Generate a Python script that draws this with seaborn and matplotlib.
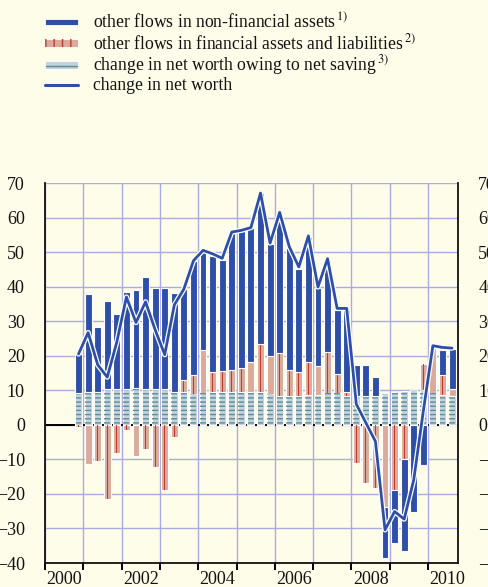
import numpy as np
import pandas as pd
import matplotlib
matplotlib.use("Agg")
import matplotlib.pyplot as plt
import matplotlib.patheffects as pe
from matplotlib.patches import Rectangle
from matplotlib.lines import Line2D
import seaborn as sns

# Quarterly data, 2000 Q4 - 2010 Q3 (EUR billions, four-quarter sums)
quarters = pd.period_range("2000Q4", "2010Q3", freq="Q")
net_saving = [9.2, 9.6, 9.6, 10.4, 10.4, 10.4, 10.6, 10.4, 10.4, 10.4,
              9.6, 9.6, 9.0, 9.2, 9.6, 9.6, 9.6, 9.6, 9.4, 9.4,
              9.0, 8.2, 8.2, 8.2, 8.6, 8.6, 9.2, 9.2, 8.2, 8.2,
              8.2, 8.4, 9.0, 9.6, 9.9, 10.1, 10.1, 9.2, 8.6, 8.2]
fin_flows = [-0.5, -11.3, -10.6, -21.5, -8.2, -1.5, -8.9, -7.0, -12.1, -18.8,
             -3.4, 3.4, 5.3, 12.5, 5.6, 6.0, 6.3, 6.8, 8.9, 14.0,
             10.8, 12.7, 7.7, 7.1, 9.6, 8.3, 12.0, 5.6, 1.4, -11.1,
             -16.7, -18.3, -23.9, -19.0, -9.9, 0.0, 7.5, 13.0, 5.7, 2.1]
nonfin_flows = [11.4, 28.3, 18.6, 25.3, 21.7, 28.1, 28.5, 32.4, 29.2, 29.1,
                28.5, 26.3, 33.2, 28.2, 33.7, 32.2, 39.6, 39.6, 38.6, 43.7,
                32.6, 40.4, 35.3, 29.8, 36.3, 22.6, 26.6, 18.5, 23.7, 9.2,
                9.2, 5.4, -14.7, -15.3, -26.5, -25.1, -11.6, 0.6, 7.4, 11.6]
net_worth = [20.5, 26.7, 17.4, 13.8, 24.0, 37.0, 29.6, 35.6, 27.5, 20.3,
             34.7, 39.3, 47.5, 50.5, 49.5, 48.2, 55.8, 56.3, 57.1, 67.1,
             52.6, 61.5, 51.6, 45.7, 54.7, 39.9, 48.1, 33.7, 33.7, 6.0,
             0.6, -4.8, -30.4, -25.1, -27.3, -15.9, 4.0, 22.9, 22.4, 22.2]
year_ticks = list(range(2000, 2011))
year_labels = ["2000", "2002", "2004", "2006", "2008", "2010"]
legend_labels = [
    r"other flows in non-financial assets$^{\,1)}$",
    r"other flows in financial assets and liabilities$^{\,2)}$",
    r"change in net worth owing to net saving$^{\,3)}$",
    "change in net worth",
]

BG = "#fefde9"
BLUE = "#2d4fa7"
PINK = "#dcaa9a"
DARKRED = "#c0392b"
GREY = "#c3d3d9"
TEAL = "#5b8c9c"
GRID = "#a8abe6"

sns.set_theme(style="white")
plt.rcParams["font.family"] = ["Liberation Serif", "DejaVu Serif"]
plt.rcParams["mathtext.fontset"] = "stix"
plt.rcParams["hatch.linewidth"] = 1.0

df = pd.DataFrame({
    "x": [q.year + (q.quarter - 0.5) / 4 for q in quarters],
    "saving": net_saving,
    "fin": fin_flows,
    "nonfin": nonfin_flows,
    "networth": net_worth,
})
sav = df["saving"].to_numpy()
fin = df["fin"].to_numpy()
nonfin = df["nonfin"].to_numpy()
fin_bottom = np.where(fin >= 0, sav, 0.0)
nonfin_bottom = np.where(nonfin >= 0, sav + np.clip(fin, 0, None), np.clip(fin, None, 0))

fig = plt.figure(figsize=(4.89, 5.87), dpi=100, facecolor=BG)
ax = fig.add_axes([45 / 489, 1 - 563 / 587, 413 / 489, 380 / 587], facecolor=BG)

W = 0.18
x = df["x"].to_numpy()
# net saving: light fill with horizontal rules
ax.bar(x, sav, width=W, color=GREY, edgecolor="white", linewidth=0.8, zorder=3)
ax.bar(x, sav, width=W * 0.86, facecolor="none", edgecolor=TEAL, hatch="----",
       linewidth=0, zorder=3.1)
# financial flows: pink fill with a dark red centre stripe
ax.bar(x, fin, bottom=fin_bottom, width=W, color=PINK, edgecolor="white",
       linewidth=0.8, zorder=3)
ax.bar(x, fin, bottom=fin_bottom, width=0.02, color=DARKRED, linewidth=0, zorder=3.1)
# non-financial flows
ax.bar(x, nonfin, bottom=nonfin_bottom, width=W, color=BLUE, edgecolor="white",
       linewidth=0.8, zorder=3.2)

sns.lineplot(data=df, x="x", y="networth", ax=ax, color=BLUE, linewidth=2.0,
             zorder=5, path_effects=[pe.Stroke(linewidth=3.8, foreground="white"), pe.Normal()])

ax.axhline(0, color="black", linewidth=1.4, zorder=2)

ax.set_xlim(2000, 2010.78)
ax.set_ylim(-40, 70)
ax.set_yticks(range(-40, 71, 10))
ax.set_xticks(year_ticks)
ax.set_xticklabels([])
ax.set_xticks([int(y) + 0.5 for y in year_labels], minor=True)
ax.set_xticklabels(year_labels, minor=True)
ax.grid(True, which="major", color=GRID, linewidth=1.0, zorder=0)
ax.set_axisbelow(True)
ax.set_xlabel("")
ax.set_ylabel("")

ax.tick_params(axis="x", which="major", direction="out", length=5, width=1.4,
               color="black", bottom=True)
ax.tick_params(axis="x", which="minor", length=0, pad=6, labelsize=13, labelcolor="#111111")
ax.tick_params(axis="y", left=False, right=False, labelleft=True, labelright=True,
               labelsize=13, pad=8.5, labelcolor="#111111")

for side in ["left", "right", "bottom"]:
    ax.spines[side].set_visible(True)
    ax.spines[side].set_color("#111111")
    ax.spines[side].set_linewidth(1.3)
ax.spines["top"].set_visible(False)


def fx(px):
    return px / 489


def fy(py):
    return 1 - py / 587


# legend block at the top
rows_y = [22, 43, 65, 85]
fig.add_artist(Rectangle((fx(45), fy(25)), fx(33), 6 / 587, facecolor=BLUE,
                         edgecolor="white", linewidth=0.6, transform=fig.transFigure))
fig.add_artist(Rectangle((fx(45), fy(46.5)), fx(33), 7 / 587, facecolor=PINK,
                         edgecolor="white", linewidth=0.6, transform=fig.transFigure))
fig.add_artist(Rectangle((fx(45), fy(46.5)), fx(33), 7 / 587, facecolor="none",
                         edgecolor=DARKRED, hatch="||", linewidth=0,
                         transform=fig.transFigure))
fig.add_artist(Rectangle((fx(45), fy(68.5)), fx(33), 7 / 587, facecolor=GREY,
                         edgecolor="white", linewidth=0.6, transform=fig.transFigure))
fig.add_artist(Line2D([fx(46), fx(77)], [fy(65.5), fy(65.5)], color=TEAL,
                      linewidth=1.0, transform=fig.transFigure))
fig.add_artist(Line2D([fx(45), fx(78)], [fy(85), fy(85)], color=BLUE,
                      linewidth=2.2, transform=fig.transFigure))
for label, ry in zip(legend_labels, rows_y):
    fig.text(fx(93), fy(ry), label, fontsize=12.7, va="center", ha="left", color="#111111")

fig.savefig("out.png", dpi=100, facecolor=BG)
